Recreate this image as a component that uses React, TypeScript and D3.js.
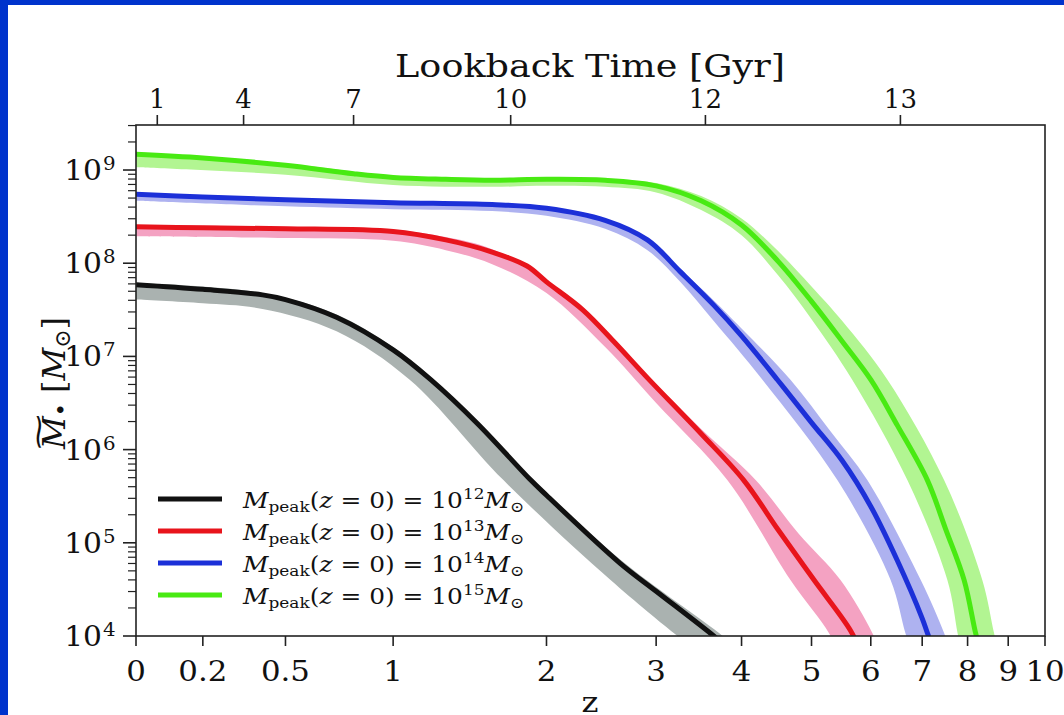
import React from "react";
import * as d3 from "d3";

// ---- data (z, log10 M) ----
const blackLine = [[0,7.77],[0.2,7.72],[0.41,7.66],[0.5,7.61],[0.72,7.42],[1.0,7.07],[1.21,6.75],[1.5,6.28],[1.88,5.67],[2.0,5.51],[2.64,4.78],[3.0,4.48],[3.65,4.0],[3.85,3.85]];
const blackUpper = [[0,7.79],[0.41,7.68],[0.72,7.45],[1.0,7.10],[1.21,6.78],[1.88,5.70],[2.64,4.82],[3.76,4.0],[3.95,3.85]];
const blackLower = [[0,7.61],[0.2,7.57],[0.41,7.51],[0.72,7.27],[1.09,6.75],[1.68,5.67],[2.55,4.60],[3.23,4.0],[3.45,3.85]];

const redLine = [[0,8.39],[0.2,8.38],[0.5,8.37],[1,8.34],[1.3,8.25],[1.6,8.12],[1.85,7.97],[2,7.80],[2.3,7.50],[2.58,7.16],[2.91,6.77],[3.5,6.17],[4.03,5.67],[4.5,5.14],[5.04,4.60],[5.64,4.06],[5.8,3.85]];
const redUpper = [[0,8.41],[0.5,8.39],[1,8.36],[1.3,8.28],[1.6,8.15],[2,7.82],[2.5,7.27],[3,6.70],[3.5,6.22],[4.19,5.67],[4.8,5.10],[5.47,4.60],[6.03,4.03],[6.15,3.85]];
const redLower = [[0,8.29],[0.5,8.27],[1,8.24],[1.3,8.14],[1.6,7.99],[2,7.68],[2.5,7.10],[3,6.50],[3.82,5.67],[4.68,4.60],[5.28,4.03],[5.4,3.85]];

const blueLine = [[0,8.74],[0.2,8.71],[0.5,8.68],[1,8.65],[1.6,8.63],[2,8.59],[2.5,8.46],[2.91,8.25],[3.26,7.91],[3.65,7.55],[4,7.22],[4.49,6.75],[5,6.29],[5.5,5.88],[6,5.39],[6.5,4.81],[7,4.19],[7.11,4.03],[7.25,3.85]];
const blueUpper = [[0,8.755],[1,8.665],[1.6,8.645],[2,8.605],[2.5,8.48],[2.91,8.27],[3.26,7.94],[3.65,7.60],[4,7.30],[4.68,6.75],[5.3,6.2],[5.94,5.67],[6.97,4.60],[7.47,4.03],[7.6,3.85]];
const blueLower = [[0,8.67],[0.5,8.61],[1,8.58],[1.6,8.56],[2,8.51],[2.5,8.37],[2.91,8.14],[3.26,7.80],[3.65,7.38],[4.28,6.75],[5.42,5.67],[6.37,4.60],[6.66,4.03],[6.78,3.85]];

const greenLine = [[0,9.17],[0.2,9.13],[0.5,9.05],[0.8,8.96],[1,8.92],[1.3,8.90],[1.6,8.89],[2,8.90],[2.5,8.89],[3,8.83],[3.5,8.67],[4,8.41],[4.5,8.02],[5,7.59],[5.5,7.16],[6,6.75],[6.5,6.26],[7.11,5.67],[7.5,5.15],[7.92,4.60],[8.19,4.03],[8.3,3.85]];
const greenUpper = [[0,9.19],[0.5,9.07],[1,8.94],[1.6,8.91],[2,8.92],[2.5,8.91],[3,8.86],[3.5,8.72],[4,8.48],[4.5,8.13],[5,7.75],[5.5,7.38],[6.31,6.75],[7.47,5.67],[8.35,4.60],[8.64,4.03],[8.75,3.85]];
const greenLower = [[0,9.03],[0.5,8.95],[1,8.84],[1.6,8.82],[2,8.83],[2.5,8.82],[3,8.76],[3.5,8.57],[4,8.30],[4.5,7.87],[5,7.40],[5.67,6.75],[6.70,5.67],[7.54,4.60],[7.77,4.03],[7.85,3.85]];

const zTicks = [0, 0.2, 0.5, 1, 2, 3, 4, 5, 6, 7, 8, 9, 10];
const lookbackLabels = ["1", "4", "7", "10", "12", "13"];
const lookbackZ = [0.06, 0.34, 0.80, 1.73, 3.55, 6.56];
const yExponents = [4, 5, 6, 7, 8, 9];
const legendExps = ["12", "13", "14", "15"];

const series = [
  { line: blackLine, upper: blackUpper, lower: blackLower, color: "#111111", band: "#aab2b0" },
  { line: redLine, upper: redUpper, lower: redLower, color: "#e8141c", band: "#f4a2c2" },
  { line: blueLine, upper: blueUpper, lower: blueLower, color: "#1c30d8", band: "#aeb2f0" },
  { line: greenLine, upper: greenUpper, lower: greenLower, color: "#48ea12", band: "#b2f592" },
];

// ---- layout ----
const W = 1064, H = 715;
const L = 136, R = 1045, T = 125, B = 636;
const C = 0.065;
const xBase = d3.scaleLog().domain([1 + C, 11 + C]).range([L, R]);
const X = (z: number) => xBase(1 + C + z);
const yScale = d3.scaleLog().domain([1e4, Math.pow(10, 9.483)]).range([B, T]);

const font = "'DejaVu Serif', serif";

function Txt(props: any) {
  const { x, y, sx = 1, children, ...rest } = props;
  return (
    <text transform={`translate(${x},${y}) scale(${sx},1)`} fontFamily={font} fill="#111" {...rest}>
      {children}
    </text>
  );
}

export default function App() {
  const lineGen = d3.line<number[]>().x(d => X(d[0])).y(d => yScale(Math.pow(10, d[1]))).curve(d3.curveCatmullRom.alpha(0.5));
  const bandPath = (up: number[][], lo: number[][]) => {
    const a = lineGen(up) as string;
    const b = lineGen(lo.slice().reverse()) as string;
    return a + "L" + b.substring(1) + "Z";
  };
  const minor: number[] = [];
  for (let e = 4; e <= 9; e++) for (let k = 2; k <= 9; k++) {
    const v = k * Math.pow(10, e);
    if (v <= Math.pow(10, 9.483)) minor.push(v);
  }
  return (
    <svg width={W} height={H} style={{ position: "fixed", left: 0, top: 0 }}>
      <rect x={0} y={0} width={W} height={H} fill="#0033cc" />
      <rect x={8} y={5} width={W - 8} height={H - 5} fill="#ffffff" />
      <defs>
        <clipPath id="plot"><rect x={L} y={T} width={R - L} height={B - T} /></clipPath>
      </defs>
      <g clipPath="url(#plot)">
        {series.map((s, i) => (
          <path key={"b" + i} d={bandPath(s.upper, s.lower)} fill={s.band} />
        ))}
        {series.map((s, i) => (
          <path key={"l" + i} d={lineGen(s.line) as string} fill="none" stroke={s.color} strokeWidth={5} />
        ))}
      </g>
      <rect x={L} y={T} width={R - L} height={B - T} fill="none" stroke="#222" strokeWidth={1.6} />
      {/* bottom ticks */}
      {zTicks.map((z, i) => (
        <g key={"zt" + i}>
          <line x1={X(z)} x2={X(z)} y1={B} y2={B + 10} stroke="#222" strokeWidth={1.6} />
          <Txt x={X(z)} y={681} sx={1.1} textAnchor="middle" fontSize={28}>{String(z)}</Txt>
        </g>
      ))}
      {/* top ticks */}
      {lookbackZ.map((z, i) => (
        <g key={"tt" + i}>
          <line x1={X(z)} x2={X(z)} y1={T} y2={T - 10} stroke="#222" strokeWidth={1.6} />
          <Txt x={X(z)} y={108} textAnchor="middle" fontSize={26}>{lookbackLabels[i]}</Txt>
        </g>
      ))}
      <Txt x={590} y={77} sx={1.18} textAnchor="middle" fontSize={31}>Lookback Time [Gyr]</Txt>
      {/* left ticks */}
      {yExponents.map((e, i) => {
        const yy = yScale(Math.pow(10, e));
        return (
          <g key={"yt" + i}>
            <line x1={L - 13} x2={L} y1={yy} y2={yy} stroke="#222" strokeWidth={1.6} />
            <Txt x={102} y={yy + 10} sx={1.1} textAnchor="end" fontSize={27}>10</Txt>
            <Txt x={103} y={yy} sx={1.1} textAnchor="start" fontSize={18}>{String(e)}</Txt>
          </g>
        );
      })}
      {minor.map((v, i) => (
        <line key={"mn" + i} x1={L - 8} x2={L} y1={yScale(v)} y2={yScale(v)} stroke="#222" strokeWidth={1.2} />
      ))}
      {/* x label */}
      <Txt x={590} y={712} sx={1.15} textAnchor="middle" fontSize={28}>z</Txt>
      {/* y label */}
      <g transform="translate(65,449) rotate(-90)">
        <text x={0} y={0} fontFamily={font} fontSize={32} fill="#111">
          <tspan fontStyle="italic">M</tspan>
          <tspan fontSize={22} dy={4}>•</tspan>
          <tspan dy={-4}> [</tspan>
          <tspan fontStyle="italic">M</tspan>
          <tspan fontSize={22} dy={5}>⊙</tspan>
          <tspan dy={-5}>]</tspan>
        </text>
        <text transform="translate(17,-17) scale(1.7,0.9)" textAnchor="middle" fontFamily={font} fontSize={30} fill="#111">~</text>
      </g>
      {/* legend */}
      {series.map((s, i) => {
        const yy = 499 + i * 32;
        return (
          <g key={"lg" + i}>
            <line x1={158} x2={222} y1={yy} y2={yy} stroke={s.color} strokeWidth={5} />
            <Txt x={243} y={yy + 9} sx={1.13} fontSize={22}>
              <tspan fontStyle="italic">M</tspan>
              <tspan fontSize={15} dy={4}>peak</tspan>
              <tspan dy={-4}>(</tspan>
              <tspan fontStyle="italic">z</tspan>
              <tspan>{" = 0) = 10"}</tspan>
              <tspan fontSize={15} dy={-9}>{legendExps[i]}</tspan>
              <tspan fontStyle="italic" dy={9}>M</tspan>
              <tspan fontSize={15} dy={4}>⊙</tspan>
            </Txt>
          </g>
        );
      })}
    </svg>
  );
}
